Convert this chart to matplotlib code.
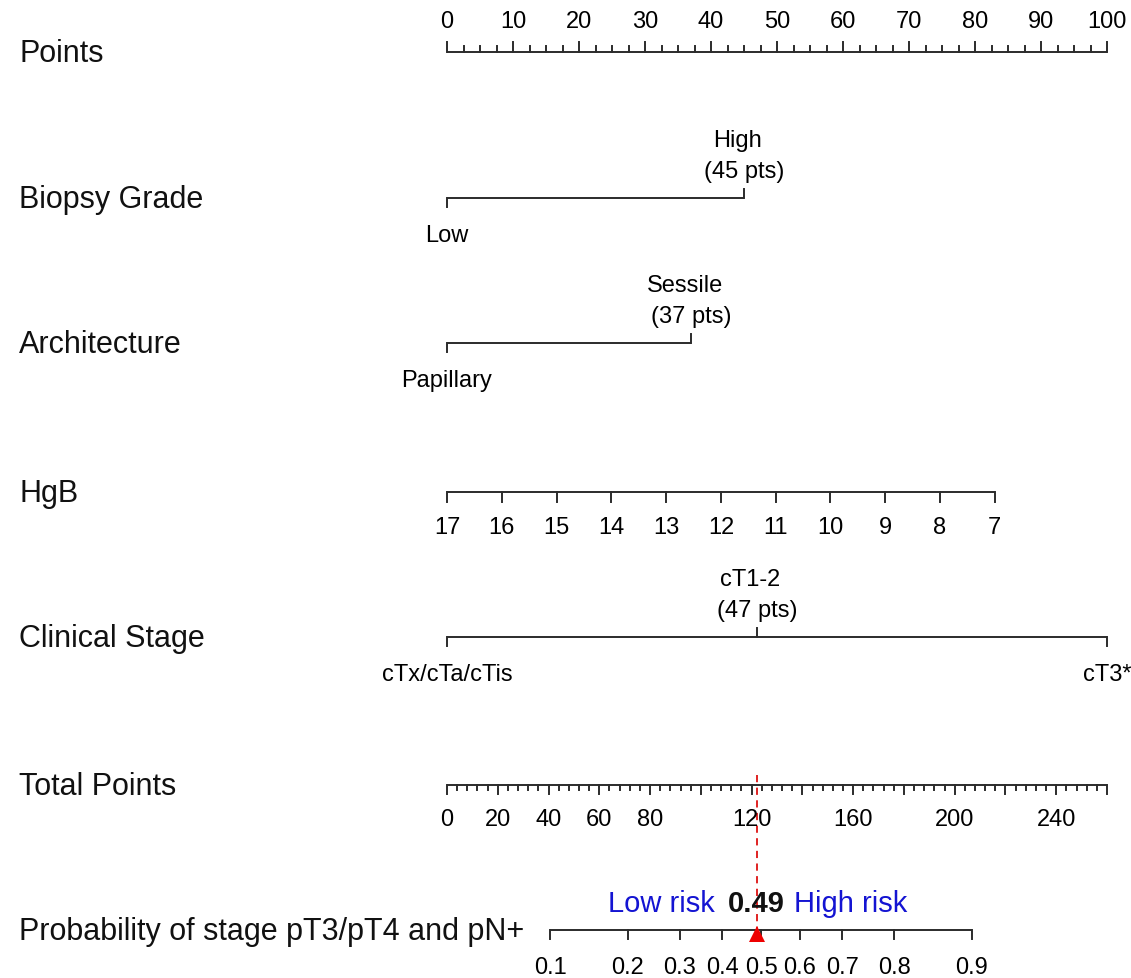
import numpy as np
import matplotlib
matplotlib.use("Agg")
import matplotlib.pyplot as plt

plt.rcParams['font.family'] = ['Liberation Sans', 'DejaVu Sans']

# --- data ---
points_major = [0, 10, 20, 30, 40, 50, 60, 70, 80, 90, 100]
points_minor_step = 2.5

grade_levels = ["Low", "High"]
grade_pts = [0, 45]

arch_levels = ["Papillary", "Sessile"]
arch_pts = [0, 37]

hgb_values = [17, 16, 15, 14, 13, 12, 11, 10, 9, 8, 7]
hgb_pts_at_7 = 83  # points given to HgB = 7 (HgB = 17 gets 0)

stage_levels = ["cTx/cTa/cTis", "cT1-2", "cT3*"]
stage_pts = [0, 47, 100]

total_max = 260
total_labels = [0, 20, 40, 60, 80, 120, 160, 200, 240]
total_minor_step = 4

prob_ticks = [0.1, 0.2, 0.3, 0.4, 0.5, 0.6, 0.7, 0.8, 0.9]
prob_labels = ["0.1", "0.2", "0.3", "0.4", "0.5", "0.6", "0.7", "0.8", "0.9"]
logit_center = 123.7   # total points where p = 0.5
logit_scale = 37.8     # total points per logit unit

patient_total = 122
patient_prob = 0.49

row_names = ["Points", "Biopsy Grade", "Architecture", "HgB", "Clinical Stage",
             "Total Points", "Probability of stage pT3/pT4 and pN+"]

# layout (pixel rows)
row_y = [53, 199, 344, 493, 638, 786, 931]
W, H = 1131, 979
x0_px, px_per_pt = 447, 6.6

fig = plt.figure(figsize=(W / 100, H / 100), dpi=100)
ax = fig.add_axes([0, 0, 1, 1])
ax.set_xlim(-x0_px / px_per_pt, (W - x0_px) / px_per_pt)
ax.set_ylim(H, 0)
ax.axis('off')

LC = '#2b2b2b'
LW = 1.4
TS = 17     # tick / level label size
NS = 22     # row name size


def px(n):
    return n / px_per_pt


def tot2x(t):
    return np.asarray(t, dtype=float) * 100.0 / total_max


# row names
label_x = px(19 - x0_px)
for name, y in zip(row_names, row_y):
    ax.text(label_x, y + 1, name, fontsize=NS, ha='left', va='center', color='#111111')

# Points axis
y = row_y[0]
ax.plot([0, 100], [y, y], color=LC, lw=LW, solid_capstyle='butt')
for v in np.arange(0, 100.01, points_minor_step):
    ln = 10 if v % 10 == 0 else 6
    ax.plot([v, v], [y, y - ln], color=LC, lw=LW)
for v in points_major:
    ax.text(v, y - 31, str(v), fontsize=TS, ha='center', va='center')


def level_row(y, levels, pts, up_idx, lab_above):
    ax.plot([min(pts), max(pts)], [y, y], color=LC, lw=LW, solid_capstyle='butt')
    for i, (lev, p) in enumerate(zip(levels, pts)):
        if i in up_idx:
            ax.plot([p, p], [y, y - 9], color=LC, lw=LW)
        else:
            ax.plot([p, p], [y, y + 9], color=LC, lw=LW)
        if i in lab_above:
            ax.text(p - 1.0, y - 58, lev, fontsize=TS, ha='center', va='center')
            ax.text(p, y - 27, "(%d pts)" % p, fontsize=TS, ha='center', va='center')
        else:
            ax.text(p, y + 37, lev, fontsize=TS, ha='center', va='center')


level_row(row_y[1], grade_levels, grade_pts, up_idx=[1], lab_above=[1])
level_row(row_y[2], arch_levels, arch_pts, up_idx=[1], lab_above=[1])
level_row(row_y[4], stage_levels, stage_pts, up_idx=[1], lab_above=[1])

# HgB axis
y = row_y[3]
hgb_x = [(17 - v) * hgb_pts_at_7 / 10.0 for v in hgb_values]
ax.plot([min(hgb_x), max(hgb_x)], [y, y], color=LC, lw=LW, solid_capstyle='butt')
for v, xv in zip(hgb_values, hgb_x):
    ax.plot([xv, xv], [y, y + 10], color=LC, lw=LW)
    ax.text(xv, y + 35, str(v), fontsize=TS, ha='center', va='center')

# Total points axis
y = row_y[5]
ax.plot([0, 100], [y, y], color=LC, lw=LW, solid_capstyle='butt')
for t in range(0, total_max + 1, total_minor_step):
    ln = 9 if t % 20 == 0 else 4.5
    ax.plot([tot2x(t)] * 2, [y, y + ln], color=LC, lw=LW)
for t in total_labels:
    ax.text(tot2x(t), y + 34, str(t), fontsize=TS, ha='center', va='center')

# Probability axis
y = row_y[6]
prob_tot = [logit_center + logit_scale * np.log(p / (1 - p)) for p in prob_ticks]
prob_x = tot2x(prob_tot)
ax.plot([prob_x[0], prob_x[-1]], [y, y], color=LC, lw=LW, solid_capstyle='butt')
for xv, lab in zip(prob_x, prob_labels):
    ax.plot([xv, xv], [y, y + 9], color=LC, lw=LW)
    ax.text(xv, y + 37, lab, fontsize=TS, ha='center', va='center')

# patient marker
px_pat = float(tot2x(patient_total))
ax.plot([px_pat, px_pat], [row_y[5] - 10, row_y[6] - 2], color='#dd1111',
        lw=1.3, ls=(0, (4, 3)))
ax.plot([px_pat], [row_y[6] + 4], marker='^', color='#ee0000', markersize=12,
        markeredgewidth=0, zorder=5)
ty = row_y[6] - 27
ax.text(px_pat, ty, "%.2f" % patient_prob, fontsize=21, fontweight='bold',
        ha='center', va='center', color='#111111')
ax.text(px_pat - px(42), ty, "Low risk", fontsize=21, ha='right', va='center',
        color='#1414d2')
ax.text(px_pat + px(37), ty, "High risk", fontsize=21, ha='left', va='center',
        color='#1414d2')

fig.savefig("out.png", dpi=100, facecolor='white')
